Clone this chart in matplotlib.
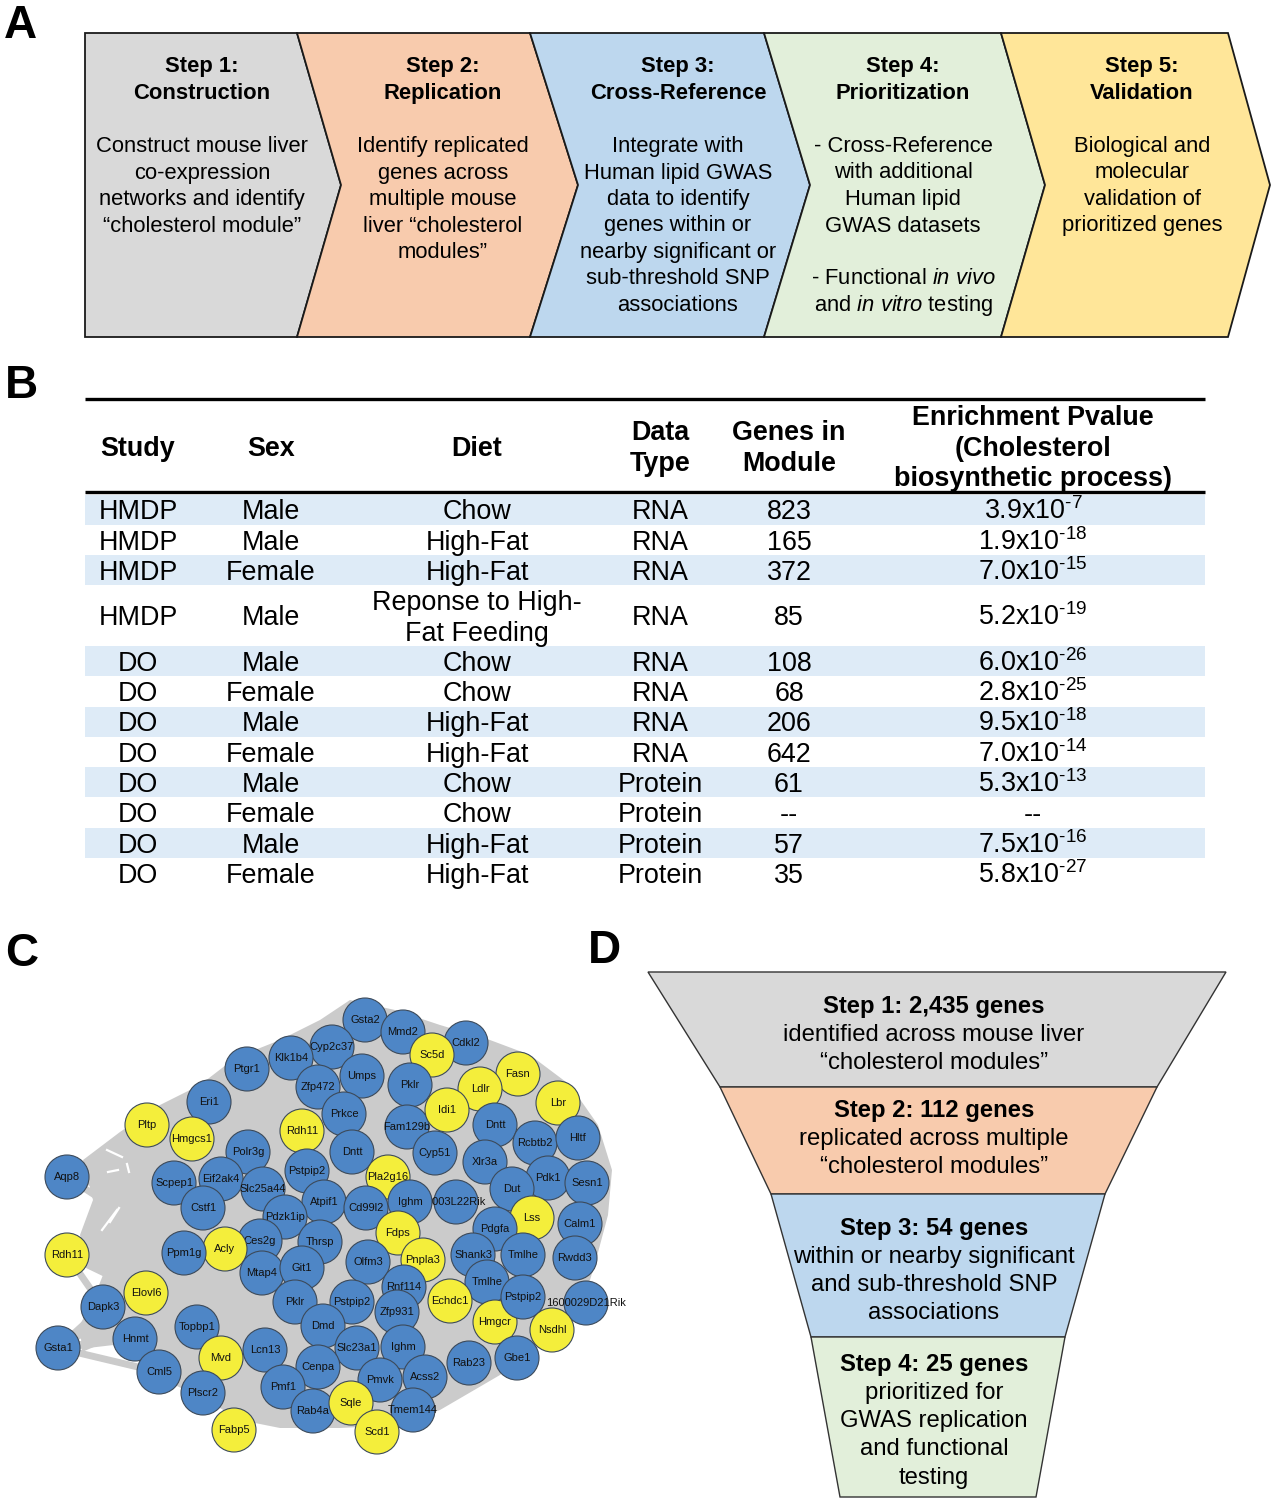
import matplotlib
matplotlib.use("Agg")
import matplotlib.pyplot as plt
from matplotlib.patches import Polygon, Circle, Rectangle

plt.rcParams['font.family'] = ['Liberation Sans', 'DejaVu Sans']
plt.rcParams['mathtext.fontset'] = 'custom'
plt.rcParams['mathtext.rm'] = 'Liberation Sans'
plt.rcParams['mathtext.it'] = 'Liberation Sans:italic'
plt.rcParams['mathtext.bf'] = 'Liberation Sans:bold'

# ---------------- data ----------------
# panel A
step_titles = [["Step 1:", "Construction"], ["Step 2:", "Replication"], ["Step 3:", "Cross-Reference"],
               ["Step 4:", "Prioritization"], ["Step 5:", "Validation"]]
step_bodies = [
    ["Construct mouse liver", "co-expression", "networks and identify", "\u201ccholesterol module\u201d"],
    ["Identify replicated", "genes across", "multiple mouse", "liver \u201ccholesterol", "modules\u201d"],
    ["Integrate with", "Human lipid GWAS", "data to identify", "genes within or", "nearby significant or",
     "sub-threshold SNP", "associations"],
    ["- Cross-Reference", "with additional", "Human lipid", "GWAS datasets", "",
     r"- Functional $\mathit{in\ vivo}$", r"and $\mathit{in\ vitro}$ testing"],
    ["Biological and", "molecular", "validation of", "prioritized genes"],
]
step_colors = ["#d9d9d9", "#f8cbad", "#bdd7ee", "#e2efda", "#ffe699"]

# panel B
headers = [["Study"], ["Sex"], ["Diet"], ["Data", "Type"], ["Genes in", "Module"],
           ["Enrichment Pvalue", "(Cholesterol", "biosynthetic process)"]]
study = ["HMDP", "HMDP", "HMDP", "HMDP", "DO", "DO", "DO", "DO", "DO", "DO", "DO", "DO"]
sex = ["Male", "Male", "Female", "Male", "Male", "Female", "Male", "Female", "Male", "Female", "Male", "Female"]
diet = ["Chow", "High-Fat", "High-Fat", "Reponse to High-\nFat Feeding", "Chow", "Chow", "High-Fat",
        "High-Fat", "Chow", "Chow", "High-Fat", "High-Fat"]
data_type = ["RNA"] * 8 + ["Protein"] * 4
genes_in_module = ["823", "165", "372", "85", "108", "68", "206", "642", "61", "--", "57", "35"]
pval_mant = ["3.9", "1.9", "7.0", "5.2", "6.0", "2.8", "9.5", "7.0", "5.3", None, "7.5", "5.8"]
pval_exp = [-7, -18, -15, -19, -26, -25, -18, -14, -13, None, -16, -27]

# panel C: network nodes
node_label = ["Gsta2", "Mmd2", "Cyp2c37", "Cdkl2", "Sc5d", "Klk1b4", "Ptgr1", "Umps", "Zfp472", "Pklr",
              "Fasn", "Ldlr", "Lbr", "Eri1", "Prkce", "Fam129b", "Idi1", "Dntt", "Rcbtb2", "Hltf",
              "Pltp", "Hmgcs1", "Rdh11", "Polr3g", "Dntt", "Cyp51", "Xlr3a", "Pdk1", "Sesn1", "Aqp8",
              "Scpep1", "Eif2ak4", "Pstpip2", "Slc25a44", "Pla2g16", "0003L22Rik", "Dut", "Atpif1",
              "Pdzk1ip", "Cstf1", "Cd99l2", "Ighm", "Lss", "Calm1", "Pdgfa", "Fdps", "Ces2g", "Thrsp",
              "Acly", "Ppm1g", "Rdh11", "Shank3", "Tmlhe", "Rwdd3", "Olfm3", "Pnpla3", "Mtap4", "Git1",
              "Rnf114", "Tmlhe", "Elovl6", "Echdc1", "Pklr", "Pstpip2", "1600029D21Rik", "Zfp931",
              "Hmgcr", "Pstpip2", "Nsdhl", "Dapk3", "Dmd", "Topbp1", "Mvd", "Lcn13", "Hnmt", "Gsta1",
              "Slc23a1", "Ighm", "Rab23", "Gbe1", "Cenpa", "Cml5", "Plscr2", "Pmf1", "Acss2", "Pmvk",
              "Tmem144", "Rab4a", "Sqle", "Scd1", "Fabp5"]
node_x = [365, 403, 332, 466, 432, 291, 247, 362, 318, 410,
          518, 480, 558, 209, 344, 407, 447, 495, 535, 578,
          147, 192, 302, 248, 352, 435, 485, 548, 587, 67,
          174, 221, 307, 263, 388, 456, 512, 324,
          285, 203, 366, 410, 532, 580, 495, 398, 260, 320,
          225, 184, 67, 473, 523, 575, 368, 423, 262, 302,
          404, 487, 146, 450, 295, 352, 586, 397,
          495, 523, 552, 103, 323, 197, 221, 265, 135, 58,
          357, 403, 469, 517, 318, 159, 203, 283, 425, 380,
          413, 313, 351, 377, 234]
node_y = [1020, 1032, 1047, 1043, 1055, 1058, 1069, 1076, 1087, 1085,
          1074, 1089, 1103, 1102, 1114, 1127, 1110, 1125, 1143, 1138,
          1125, 1139, 1131, 1152, 1152, 1153, 1162, 1178, 1183, 1177,
          1183, 1179, 1171, 1189, 1177, 1202, 1189, 1202,
          1217, 1208, 1208, 1202, 1218, 1224, 1229, 1233, 1241, 1242,
          1249, 1253, 1255, 1255, 1255, 1258, 1262, 1260, 1273, 1268,
          1287, 1282, 1293, 1301, 1302, 1302, 1303, 1312,
          1322, 1297, 1330, 1307, 1326, 1327, 1358, 1350, 1339, 1348,
          1348, 1347, 1363, 1358, 1367, 1372, 1393, 1387, 1377, 1380,
          1410, 1411, 1403, 1432, 1430]
yellow_genes = ["Sc5d", "Fasn", "Ldlr", "Lbr", "Idi1", "Pltp", "Hmgcs1", "Rdh11", "Pla2g16", "Lss", "Fdps",
                "Acly", "Pnpla3", "Elovl6", "Echdc1", "Hmgcr", "Nsdhl", "Mvd", "Sqle", "Scd1", "Fabp5"]
# grey edges fanning from the outlying nodes (node index pairs)
edge_src = [29, 29, 29, 29, 29, 29, 29, 50, 50, 50, 50, 50, 50, 50, 50, 75, 75, 75, 75, 75, 75, 75]
edge_dst = [20, 21, 30, 13, 39, 23, 49, 30, 39, 49, 48, 60, 69, 21, 31, 69, 74, 60, 71, 81, 49, 48]
# shaded module background outline
blob_x = [83, 120, 160, 200, 235, 280, 320, 350, 395, 440, 490, 530, 570, 598, 612, 608, 596, 590,
          545, 500, 440, 400, 340, 280, 240, 215, 175, 150, 115, 82, 80, 95, 103, 88, 80, 93]
blob_y = [1160, 1132, 1105, 1085, 1058, 1040, 1020, 1000, 1010, 1025, 1040, 1055, 1085, 1125, 1170,
          1215, 1260, 1280, 1335, 1375, 1410, 1425, 1428, 1428, 1420, 1405, 1385, 1358, 1338, 1352,
          1325, 1295, 1275, 1265, 1235, 1200]
# thin white gaps between the fanned edges
gap_x0 = [107, 108, 127, 102, 110]
gap_y0 = [1150, 1172, 1164, 1230, 1222]
gap_x1 = [122, 118, 129, 117, 119]
gap_y1 = [1157, 1170, 1172, 1210, 1208]

# panel D
funnel_y = [972, 1087, 1194, 1337, 1497]
funnel_left = [648, 720, 771, 811, 840]
funnel_right = [1226, 1157, 1105, 1065, 1036]
funnel_colors = ["#d9d9d9", "#f8cbad", "#bdd7ee", "#e2efda"]
funnel_head = ["Step 1: 2,435 genes", "Step 2: 112 genes", "Step 3: 54 genes", "Step 4: 25 genes"]
funnel_body = [["identified across mouse liver", "\u201ccholesterol modules\u201d"],
               ["replicated across multiple", "\u201ccholesterol modules\u201d"],
               ["within or nearby significant", "and sub-threshold SNP", "associations"],
               ["prioritized for", "GWAS replication", "and functional", "testing"]]

# ---------------- figure ----------------
fig = plt.figure(figsize=(12.74, 15), dpi=100)
ax = fig.add_axes([0, 0, 1, 1])
ax.set_xlim(0, 1274)
ax.set_ylim(1500, 0)
ax.axis("off")

# panel letters
for lab, lx, ly in [("A", 4, 38), ("B", 5, 398), ("C", 5, 966), ("D", 588, 963)]:
    ax.text(lx, ly, lab, fontsize=33, fontweight="bold", va="baseline", ha="left")

# ---- A: chevrons ----
tops = [297, 530, 764, 1001, 1228]
points = [341, 578, 810, 1045, 1270]
centers = [202, 443, 678, 903, 1142]
y0, y1, ym = 33, 337, 185
for i in range(5):
    if i == 0:
        left = [(85, y1), (85, y0)]
    else:
        left = [(tops[i - 1], y1), (points[i - 1], ym), (tops[i - 1], y0)]
    right = [(tops[i], y0), (points[i], ym), (tops[i], y1)]
    ax.add_patch(Polygon(left + right, closed=True, facecolor=step_colors[i], edgecolor="#1a1a1a", lw=1.3))
    for k, t in enumerate(step_titles[i]):
        ax.text(centers[i], 64 + 27 * k + 8, t, fontsize=15.8, fontweight="bold", ha="center", va="baseline")
    for k, t in enumerate(step_bodies[i]):
        if t:
            ax.text(centers[i], 144 + 26.5 * k + 8, t, fontsize=15.8, ha="center", va="baseline")

# ---- B: table ----
col_x = [138, 271, 477, 660, 789, 1033]
fs = 19.4
ax.plot([85, 1205], [399, 399], color="black", lw=2.4, solid_capstyle="butt")
ax.plot([85, 1205], [492, 492], color="black", lw=2.4, solid_capstyle="butt")
for cx, hl in zip(col_x, headers):
    n = len(hl)
    for k, t in enumerate(hl):
        cy = 446 + (k - (n - 1) / 2) * 30.5
        ax.text(cx, cy + 9.7, t, fontsize=fs, fontweight="bold", ha="center", va="baseline")

row_h = 30.3
top = 494.5
for r in range(len(study)):
    nlines = diet[r].count("\n") + 1
    h = row_h * nlines
    if r % 2 == 0:
        ax.add_patch(Rectangle((85, top), 1120, h, facecolor="#deebf7", edgecolor="none"))
    cy = top + h / 2
    vals = [study[r], sex[r], None, data_type[r], genes_in_module[r]]
    for cx, v in zip(col_x, vals):
        if v is not None:
            ax.text(cx, cy + 9.7, v, fontsize=fs, ha="center", va="baseline")
    dl = diet[r].split("\n")
    for k, t in enumerate(dl):
        ax.text(col_x[2], cy + (k - (len(dl) - 1) / 2) * 30.5 + 9.7, t, fontsize=fs, ha="center", va="baseline")
    if pval_mant[r] is None:
        ptxt = "--"
    else:
        ptxt = pval_mant[r] + r"x10$^{\text{" + str(pval_exp[r]) + "}}$"
    ax.text(col_x[5], cy + 9.7, ptxt, fontsize=fs, ha="center", va="baseline")
    top += h

# ---- C: network ----
ax.add_patch(Polygon(list(zip(blob_x, blob_y)), closed=True, facecolor="#cbcbcb", edgecolor="none", zorder=1))
for s, d in zip(edge_src, edge_dst):
    ax.plot([node_x[s], node_x[d]], [node_y[s], node_y[d]], color="#cbcbcb", lw=5, zorder=1.5,
            solid_capstyle="round")
for a, b, c, d in zip(gap_x0, gap_y0, gap_x1, gap_y1):
    ax.plot([a, c], [b, d], color="white", lw=1.6, zorder=1.6)
for i, (lab, x, y) in enumerate(zip(node_label, node_x, node_y)):
    col = "#f4ee3b" if lab in yellow_genes else "#4e86c6"
    z = 2 + 0.01 * i
    ax.add_patch(Circle((x, y), 22, facecolor=col, edgecolor="#3c4a5a", lw=0.8, zorder=z))
    ax.text(x, y, lab, fontsize=8, ha="center", va="center", zorder=z + 0.005, color="#111111")

# ---- D: funnel ----
for i in range(4):
    verts = [(funnel_left[i], funnel_y[i]), (funnel_right[i], funnel_y[i]),
             (funnel_right[i + 1], funnel_y[i + 1]), (funnel_left[i + 1], funnel_y[i + 1])]
    ax.add_patch(Polygon(verts, closed=True, facecolor=funnel_colors[i], edgecolor="#333333", lw=1.0))

fun_start = [1004, 1108, 1226, 1362]
for i in range(4):
    ax.text(934, fun_start[i] + 8.5, funnel_head[i], fontsize=17.2, fontweight="bold", ha="center", va="baseline")
    for k, t in enumerate(funnel_body[i]):
        ax.text(934, fun_start[i] + 28.3 * (k + 1) + 8.5, t, fontsize=17.2, ha="center", va="baseline")

fig.savefig("out.png", dpi=100)
